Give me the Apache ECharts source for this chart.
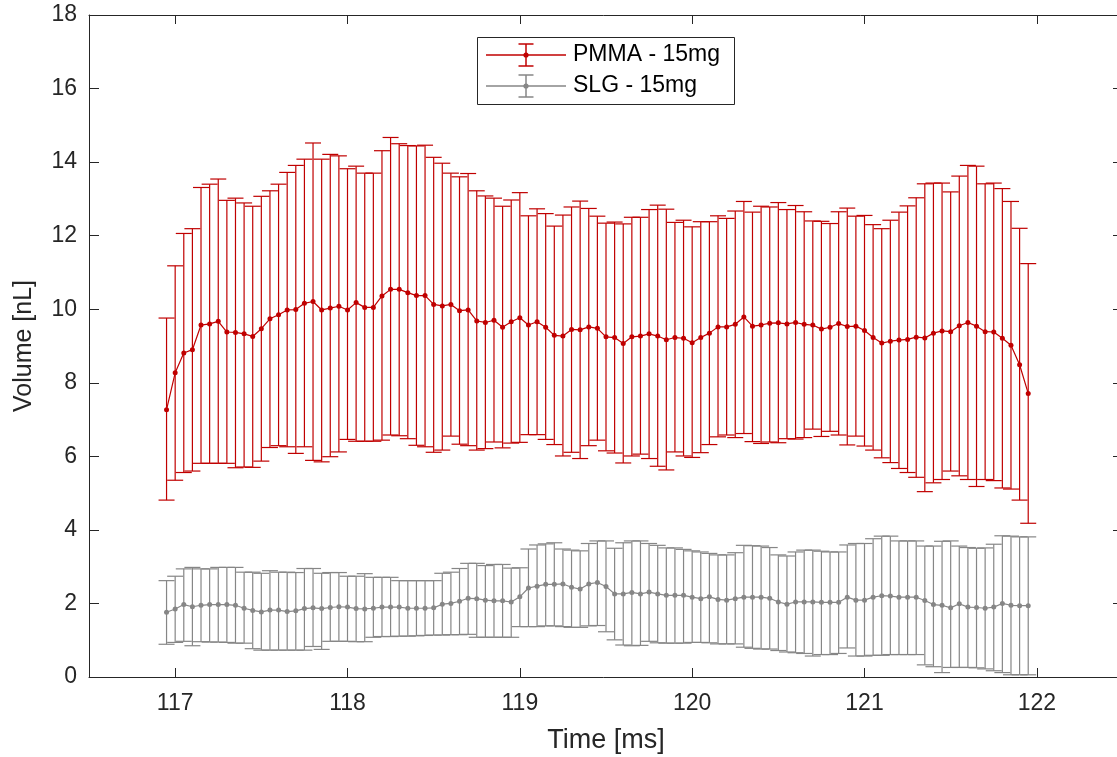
<!DOCTYPE html>
<html><head><meta charset="utf-8">
<script src="https://cdn.jsdelivr.net/npm/echarts@6/dist/echarts.min.js"></script>
<style>html,body{margin:0;padding:0;background:#fff;overflow:hidden}#c{width:1117px;height:757px}</style>
</head><body><div id="c"></div><script>
const times = [116.95,
117.00,117.05,117.10,117.15,117.20,117.25,117.30,117.35,117.40,117.45,117.50,117.55,117.60,117.65,117.70,117.75,117.80,117.85,117.90,117.95,
118.00,118.05,118.10,118.15,118.20,118.25,118.30,118.35,118.40,118.45,118.50,118.55,118.60,118.65,118.70,118.75,118.80,118.85,118.90,118.95,
119.00,119.05,119.10,119.15,119.20,119.25,119.30,119.35,119.40,119.45,119.50,119.55,119.60,119.65,119.70,119.75,119.80,119.85,119.90,119.95,
120.00,120.05,120.10,120.15,120.20,120.25,120.30,120.35,120.40,120.45,120.50,120.55,120.60,120.65,120.70,120.75,120.80,120.85,120.90,120.95,
121.00,121.05,121.10,121.15,121.20,121.25,121.30,121.35,121.40,121.45,121.50,121.55,121.60,121.65,121.70,121.75,121.80,121.85,121.90,121.95];

const pmmaMean = [7.27,8.27,8.81,8.90,9.57,9.60,9.67,9.38,9.37,9.33,9.26,9.47,9.74,9.85,9.98,9.99,10.16,10.21,9.98,10.03,
10.08,9.98,10.18,10.05,10.05,10.36,10.54,10.54,10.45,10.37,10.37,10.13,10.09,10.13,9.96,9.98,9.68,9.64,9.70,9.51,
9.66,9.77,9.57,9.66,9.51,9.29,9.27,9.45,9.44,9.52,9.48,9.25,9.23,9.07,9.25,9.27,9.33,9.27,9.17,9.23,
9.21,9.09,9.23,9.35,9.52,9.52,9.59,9.79,9.54,9.57,9.62,9.63,9.60,9.64,9.59,9.57,9.46,9.51,9.61,9.53,
9.54,9.42,9.23,9.08,9.13,9.16,9.18,9.24,9.22,9.35,9.41,9.39,9.55,9.64,9.54,9.39,9.38,9.21,9.02,8.49,7.71];
const pmmaUpper = [9.76,11.18,12.06,12.19,13.31,13.40,13.54,12.96,13.02,12.89,12.80,13.07,13.22,13.40,13.72,13.91,14.08,14.52,14.08,14.21,
14.17,13.82,13.89,13.70,13.70,14.31,14.67,14.50,14.45,14.44,14.46,14.13,13.97,13.70,13.60,13.69,13.22,13.08,13.02,12.80,
12.97,13.17,12.54,12.73,12.60,12.26,12.56,12.78,12.94,12.74,12.53,12.34,12.37,12.32,12.50,12.50,12.71,12.83,12.72,12.36,
12.42,12.24,12.38,12.38,12.54,12.47,12.67,12.93,12.64,12.80,12.78,12.90,12.71,12.82,12.65,12.40,12.39,12.33,12.65,12.75,
12.53,12.55,12.30,12.19,12.42,12.64,12.81,13.03,13.41,13.43,13.43,13.19,13.62,13.91,13.89,13.41,13.43,13.28,12.93,12.20,11.24];
const pmmaLower = [4.81,5.35,5.56,5.60,5.81,5.81,5.81,5.81,5.69,5.71,5.70,5.87,6.24,6.29,6.26,6.08,6.26,5.89,5.85,5.99,
6.12,6.46,6.41,6.41,6.41,6.44,6.58,6.56,6.48,6.30,6.26,6.11,6.17,6.55,6.33,6.29,6.17,6.21,6.39,6.23,
6.36,6.38,6.59,6.59,6.46,6.32,6.01,6.11,5.94,6.29,6.44,6.15,6.09,5.82,6.01,6.06,5.94,5.73,5.63,6.12,
6.01,5.97,6.10,6.32,6.53,6.58,6.51,6.62,6.40,6.35,6.39,6.37,6.48,6.47,6.51,6.74,6.54,6.68,6.58,6.31,
6.55,6.28,6.17,5.96,5.83,5.67,5.56,5.43,5.04,5.28,5.37,5.60,5.47,5.37,5.18,5.37,5.34,5.14,5.11,4.81,4.18];

const slgMean = [1.76,1.85,1.97,1.91,1.95,1.97,1.97,1.97,1.95,1.87,1.81,1.77,1.82,1.82,1.78,1.80,1.86,1.88,1.86,1.89,
1.91,1.90,1.86,1.85,1.87,1.90,1.90,1.90,1.87,1.87,1.87,1.88,1.98,2.00,2.06,2.14,2.13,2.09,2.07,2.07,
2.04,2.18,2.42,2.47,2.52,2.52,2.53,2.44,2.39,2.53,2.57,2.46,2.26,2.26,2.30,2.26,2.31,2.26,2.22,2.22,
2.22,2.17,2.13,2.18,2.11,2.09,2.13,2.17,2.17,2.17,2.14,2.04,1.98,2.04,2.04,2.04,2.03,2.03,2.03,2.17,
2.09,2.09,2.17,2.21,2.20,2.17,2.17,2.17,2.08,1.97,1.95,1.88,1.99,1.90,1.89,1.87,1.90,2.00,1.95,1.94,1.94];
const slgUpper = [2.62,2.74,2.94,2.98,2.94,2.94,2.98,2.98,2.98,2.85,2.85,2.82,2.89,2.85,2.85,2.84,2.95,2.95,2.82,2.84,
2.84,2.74,2.74,2.81,2.71,2.71,2.71,2.62,2.62,2.62,2.62,2.62,2.82,2.85,2.95,3.09,3.09,3.03,3.06,3.06,
2.96,2.97,3.48,3.59,3.62,3.65,3.48,3.45,3.43,3.63,3.70,3.70,3.50,3.65,3.70,3.70,3.63,3.58,3.51,3.51,
3.47,3.43,3.40,3.36,3.32,3.32,3.38,3.58,3.57,3.56,3.52,3.32,3.29,3.40,3.45,3.45,3.42,3.40,3.40,3.59,
3.63,3.63,3.76,3.83,3.83,3.70,3.70,3.70,3.56,3.56,3.69,3.70,3.56,3.52,3.50,3.51,3.61,3.84,3.83,3.81,3.81];
const slgLower = [0.89,0.94,0.97,0.85,0.96,0.95,0.95,0.94,0.92,0.92,0.77,0.73,0.73,0.73,0.73,0.73,0.73,0.83,0.75,0.97,
0.97,0.97,0.96,0.96,1.08,1.10,1.10,1.11,1.11,1.12,1.13,1.14,1.14,1.15,1.15,1.16,1.08,1.08,1.08,1.08,
1.08,1.37,1.37,1.37,1.39,1.39,1.37,1.35,1.35,1.39,1.40,1.23,1.01,0.87,0.85,0.86,0.97,0.93,0.92,0.92,
0.92,0.94,0.94,0.93,0.90,0.90,0.90,0.81,0.78,0.76,0.76,0.72,0.68,0.66,0.64,0.57,0.61,0.61,0.64,0.79,
0.57,0.57,0.59,0.59,0.61,0.61,0.61,0.61,0.33,0.28,0.12,0.26,0.26,0.26,0.25,0.22,0.17,0.12,0.06,0.06,0.06];

const xTicks = [117,118,119,120,121,122];
const seriesNames = ['PMMA - 15mg','SLG - 15mg'];

const RED = '#C00000', GRAY = '#868686', AXIS = '#262626';
const FONT = '"Liberation Sans", Arial, Helvetica, sans-serif';
const COLORS = [RED, GRAY];

function errData(lo, hi){ return times.map((t,i)=>[t, lo[i], hi[i]]); }
function lineData(m){ return times.map((t,i)=>[t, m[i]]); }
function errRender(color){
  return function(params, api){
    const x = api.value(0), lo = api.value(1), hi = api.value(2);
    const a = api.coord([x, hi]), b = api.coord([x, lo]);
    const w = 8;
    const st = {stroke: color, lineWidth: 1.2, fill: null};
    return {type:'group', children:[
      {type:'line', shape:{x1:a[0], y1:a[1], x2:b[0], y2:b[1]}, style:st},
      {type:'line', shape:{x1:a[0]-w, y1:a[1], x2:a[0]+w, y2:a[1]}, style:st},
      {type:'line', shape:{x1:b[0]-w, y1:b[1], x2:b[0]+w, y2:b[1]}, style:st}
    ]};
  };
}

// legend drawn as graphic (box + errorbar glyph + text)
function legendItem(name, color, cy){
  const st = {stroke: color, lineWidth: 1.5};
  return [
    {type:'line', shape:{x1:486, y1:cy, x2:566, y2:cy}, style:st, z:101},
    {type:'line', shape:{x1:526, y1:cy-11, x2:526, y2:cy+11}, style:st, z:101},
    {type:'line', shape:{x1:518.5, y1:cy-11, x2:533.5, y2:cy-11}, style:st, z:101},
    {type:'line', shape:{x1:518.5, y1:cy+11, x2:533.5, y2:cy+11}, style:st, z:101},
    {type:'circle', shape:{cx:526, cy:cy, r:2.6}, style:{fill:color}, z:102},
    {type:'text', x:573, y:cy, style:{text:name, fill:'#000', font:'23px ' + FONT, textVerticalAlign:'middle', verticalAlign:'middle'}, z:102}
  ];
}
const legendGraphics = [
  {type:'rect', shape:{x:477.5, y:37.5, width:257, height:67}, style:{fill:'#fff', stroke:AXIS, lineWidth:1}, z:100}
].concat(legendItem(seriesNames[0], COLORS[0], 55), legendItem(seriesNames[1], COLORS[1], 86));

const axisBase = {
  axisLine:{show:true, onZero:false, lineStyle:{color:AXIS, width:1}},
  splitLine:{show:false}
};
const chart = echarts.init(document.getElementById('c'), null, {renderer:'canvas'});
chart.setOption({
  animation:false,
  backgroundColor:'#fff',
  grid:{left:89, right:-6, top:15, bottom:80, outerBoundsMode:'none', containLabel:false},
  graphic:{elements: legendGraphics.map(e => Object.assign({silent:true}, e))},
  xAxis:[
    Object.assign({}, axisBase, {type:'value', position:'bottom', min:116.5, max:122.5,
      axisTick:{show:true, inside:true, length:9, customValues:xTicks, lineStyle:{color:AXIS}},
      axisLabel:{customValues:xTicks, margin:15, fontSize:23, color:AXIS, fontFamily:FONT},
      name:'Time [ms]', nameLocation:'middle', nameGap:50,
      nameTextStyle:{fontSize:27, color:AXIS, fontFamily:FONT}}),
    Object.assign({}, axisBase, {type:'value', position:'top', min:116.5, max:122.5,
      axisTick:{show:true, inside:true, length:9, customValues:xTicks, lineStyle:{color:AXIS}},
      axisLabel:{show:false}})
  ],
  yAxis:[
    Object.assign({}, axisBase, {type:'value', position:'left', min:0, max:18, interval:2,
      axisTick:{show:true, inside:true, length:10, lineStyle:{color:AXIS}},
      axisLabel:{margin:12, fontSize:23, color:AXIS, fontFamily:FONT},
      name:'Volume [nL]', nameLocation:'middle', nameGap:52, nameRotate:90,
      nameTextStyle:{fontSize:25, color:AXIS, fontFamily:FONT}}),
    Object.assign({}, axisBase, {type:'value', position:'right', min:0, max:18, interval:2,
      axisTick:{show:true, inside:true, length:10, lineStyle:{color:AXIS}},
      axisLabel:{show:false}})
  ],
  series:[
    {type:'custom', name:seriesNames[0], xAxisIndex:0, yAxisIndex:0, silent:true,
      encode:{x:0, y:[1,2]}, renderItem:errRender(RED), data:errData(pmmaLower, pmmaUpper), z:2},
    {type:'custom', name:seriesNames[1], xAxisIndex:0, yAxisIndex:0, silent:true,
      encode:{x:0, y:[1,2]}, renderItem:errRender(GRAY), data:errData(slgLower, slgUpper), z:2},
    {type:'line', name:seriesNames[0], xAxisIndex:0, yAxisIndex:0, silent:true, data:lineData(pmmaMean),
      symbol:'circle', symbolSize:5, showSymbol:true, itemStyle:{color:RED}, lineStyle:{color:RED, width:1.2}, z:3},
    {type:'line', name:seriesNames[1], xAxisIndex:0, yAxisIndex:0, silent:true, data:lineData(slgMean),
      symbol:'circle', symbolSize:5, showSymbol:true, itemStyle:{color:GRAY}, lineStyle:{color:GRAY, width:1.2}, z:3}
  ]
});
</script></body></html>
